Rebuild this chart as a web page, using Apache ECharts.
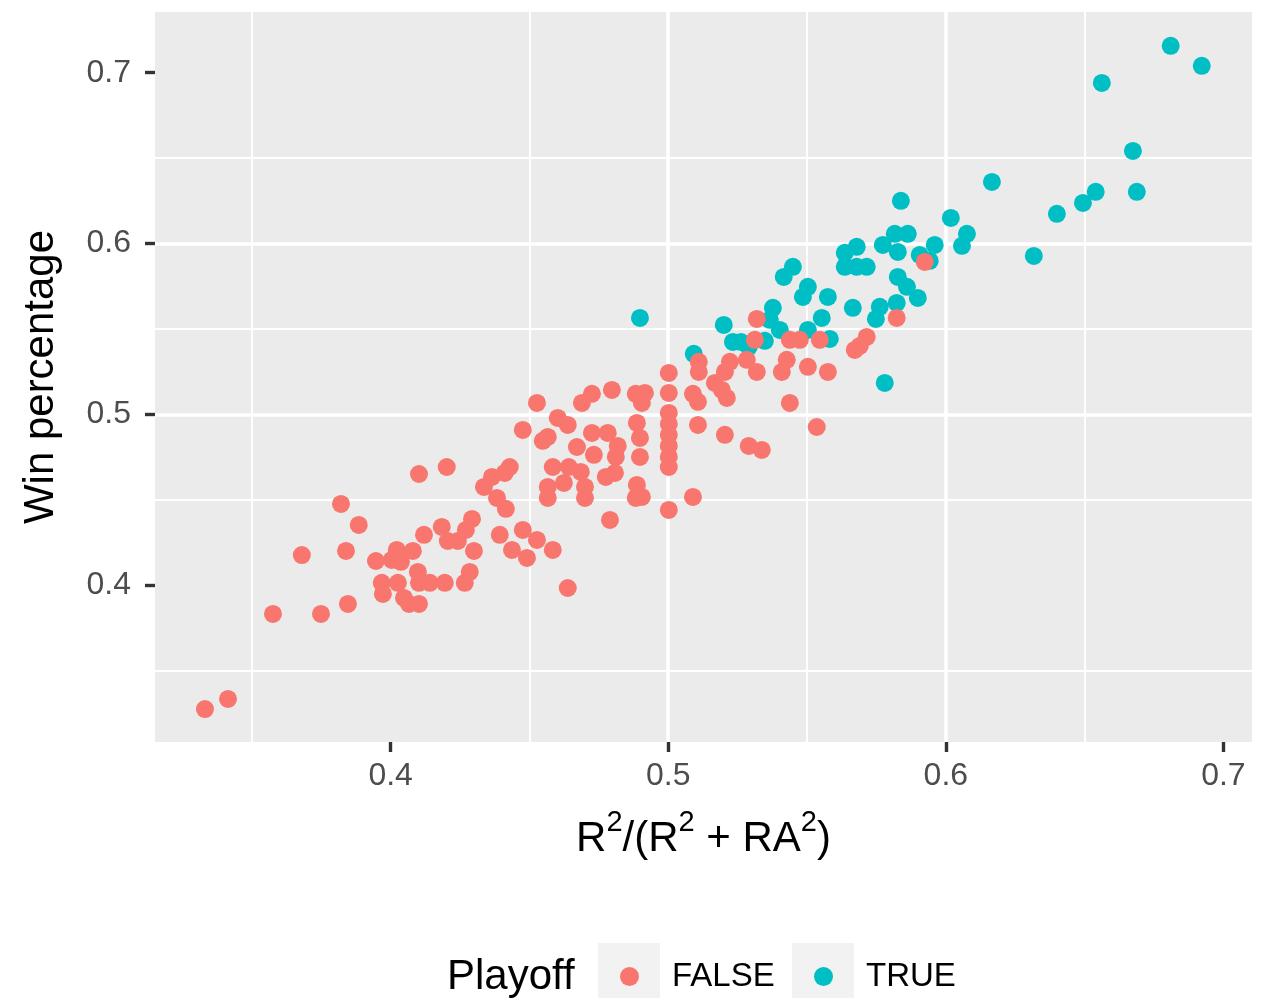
<!DOCTYPE html>
<html><head><meta charset="utf-8">
<script src="https://cdn.jsdelivr.net/npm/echarts@6/dist/echarts.min.js"></script>
<style>html,body{margin:0;padding:0;background:#fff}#chart{width:1268px;height:998px}</style>
</head><body><div id="chart"></div>
<script>
// ---- data ----
const xTicks = [0.4, 0.5, 0.6, 0.7];
const yTicks = [0.4, 0.5, 0.6, 0.7];
const legendTitle = 'Playoff';
const groupNames = ['FALSE', 'TRUE'];

const falseX = [0.3331,0.3414,0.3576,0.3680,0.3749,0.3821,0.3839,0.3846,0.3885,0.3947,
0.3968,0.3972,0.4004,0.4022,0.4037,0.4026,0.4048,0.4066,0.4102,0.4080,
0.4098,0.4102,0.4102,0.4120,0.4141,0.4184,0.4195,0.4202,0.4206,0.4242,
0.4271,0.4293,0.4300,0.4267,0.4285,0.4336,0.4365,0.4383,0.4415,0.4411,
0.4429,0.4393,0.4437,0.4476,0.4527,0.4491,0.4584,0.4638,0.4527,0.4476,
0.4602,0.4638,0.4548,0.4566,0.4689,0.4725,0.4797,0.4883,0.4916,0.4905,
0.4725,0.4782,0.4671,0.4732,0.4818,0.4811,0.4584,0.4642,0.4685,0.4624,
0.4566,0.4566,0.4700,0.4700,0.4775,0.4808,0.4790,0.4887,0.4898,0.4898,
0.4887,0.4905,0.4883,0.5002,0.5002,0.5002,0.5002,0.5002,0.5002,0.5002,
0.5002,0.5002,0.5089,0.5107,0.5107,0.5089,0.5110,0.5110,0.5204,0.5290,
0.5337,0.5168,0.5193,0.5211,0.5204,0.5222,0.5283,0.5319,0.5312,0.5319,
0.5409,0.5427,0.5438,0.5474,0.5503,0.5438,0.5535,0.5575,0.5546,0.5672,
0.5690,0.5715,0.5823,0.5924];
const falseY = [0.3277,0.3336,0.3833,0.4178,0.3833,0.4477,0.4202,0.3892,0.4354,0.4143,
0.4015,0.3950,0.4149,0.4208,0.4138,0.4015,0.3927,0.3892,0.3892,0.4202,
0.4079,0.4015,0.4652,0.4296,0.4015,0.4342,0.4015,0.4693,0.4260,0.4260,
0.4325,0.4389,0.4202,0.4015,0.4079,0.4576,0.4635,0.4512,0.4448,0.4658,
0.4693,0.4296,0.4208,0.4325,0.4266,0.4161,0.4208,0.3985,0.5068,0.4910,
0.4980,0.4939,0.4846,0.4869,0.5068,0.5121,0.5144,0.5121,0.5126,0.5068,
0.4892,0.4892,0.4810,0.4764,0.4816,0.4752,0.4693,0.4693,0.4664,0.4600,
0.4576,0.4512,0.4576,0.4512,0.4635,0.4658,0.4383,0.4951,0.4863,0.4752,
0.4588,0.4518,0.4512,0.5243,0.5126,0.5009,0.4945,0.4881,0.4816,0.4752,
0.4693,0.4442,0.5121,0.5074,0.4939,0.4518,0.5308,0.5249,0.4881,0.4816,
0.4793,0.5185,0.5144,0.5097,0.5249,0.5308,0.5320,0.5249,0.5437,0.5559,
0.5249,0.5320,0.5437,0.5437,0.5279,0.5068,0.4927,0.5249,0.5437,0.5378,
0.5401,0.5454,0.5565,0.5893];

const trueX = [0.4898,0.5092,0.5200,0.5233,0.5262,0.5290,0.5348,0.5366,0.5377,0.5402,
0.5416,0.5449,0.5485,0.5503,0.5503,0.5553,0.5575,0.5582,0.5665,0.5636,
0.5679,0.5636,0.5679,0.5715,0.5748,0.5762,0.5780,0.5773,0.5816,0.5863,
0.5827,0.5838,0.5827,0.5860,0.5899,0.5823,0.5960,0.5906,0.5942,0.6018,
0.6076,0.6058,0.6166,0.6317,0.6400,0.6494,0.6540,0.6688,0.6674,0.6562,
0.6810,0.6922];
const trueY = [0.5565,0.5355,0.5524,0.5425,0.5425,0.5396,0.5431,0.5554,0.5624,0.5495,
0.5805,0.5864,0.5688,0.5747,0.5495,0.5565,0.5688,0.5442,0.5624,0.5946,
0.5981,0.5864,0.5864,0.5864,0.5559,0.5630,0.5185,0.5992,0.6057,0.6057,
0.5951,0.6250,0.5805,0.5747,0.5682,0.5653,0.5992,0.5934,0.5899,0.6150,
0.6057,0.5987,0.6361,0.5928,0.6174,0.6238,0.6303,0.6303,0.6542,0.6940,
0.7157,0.7040];

const xRange = [0.3151, 0.7103];
const yRange = [0.3084, 0.7355];

// ---- chart ----
const FONT = '"Liberation Sans", Arial, Helvetica, sans-serif';
const RED = '#F8766D', TEAL = '#00BFC4';
const zip = (a, b) => a.map((v, i) => [v, b[i]]);

const chart = echarts.init(document.getElementById('chart'), null, {renderer: 'canvas'});

function axisCommon(ticks) {
  return {
    type: 'value',
    splitNumber: 4,
    axisLine: {show: false},
    axisTick: {show: true, length: 10, customValues: ticks, lineStyle: {color: '#333333', width: 3.4}},
    axisLabel: {customValues: ticks, formatter: v => v.toFixed(1), color: '#4D4D4D', fontSize: 32, fontFamily: FONT},
    splitLine: {show: true, showMinLine: false, showMaxLine: false, lineStyle: {color: '#FFFFFF', width: 3.6}},
    minorTick: {show: false, splitNumber: 2},
    minorSplitLine: {show: true, lineStyle: {color: '#FFFFFF', width: 1.9}}
  };
}

const xAxis = Object.assign(axisCommon(xTicks), {
  min: xRange[0], max: xRange[1],
  name: '{r|R}{s|2}{r|/(R}{s|2}{r| + RA}{s|2}{r|)}',
  nameLocation: 'middle', nameGap: 66,
  nameTextStyle: {
    fontFamily: FONT, color: '#000',
    rich: {
      r: {fontSize: 42, fontFamily: FONT, color: '#000', verticalAlign: 'bottom', lineHeight: 52},
      s: {fontSize: 29, fontFamily: FONT, color: '#000', verticalAlign: 'top', lineHeight: 52}
    }
  }
});
xAxis.axisLabel.margin = 18;

const yAxis = Object.assign(axisCommon(yTicks), {
  min: yRange[0], max: yRange[1],
  name: 'Win percentage', nameLocation: 'middle', nameGap: 93,
  nameTextStyle: {fontFamily: FONT, color: '#000', fontSize: 42}
});
yAxis.axisLabel.margin = 24;

const legendBase = {
  orient: 'horizontal', top: 955, itemWidth: 19, itemHeight: 19, icon: 'circle',
  selectedMode: false,
  textStyle: {fontFamily: FONT, fontSize: 33, color: '#000', padding: [0, 0, 0, 28]}
};

chart.setOption({
  animation: false,
  textStyle: {fontFamily: FONT},
  grid: {left: 155, right: 16, top: 12, bottom: 256, show: true, backgroundColor: '#EBEBEB', borderWidth: 0, containLabel: false},
  xAxis: xAxis,
  yAxis: yAxis,
  legend: [
    Object.assign({}, legendBase, {left: 615, data: [groupNames[0]]}),
    Object.assign({}, legendBase, {left: 809, data: [groupNames[1]]})
  ],
  graphic: [
    {type: 'rect', left: 598, top: 943, z: -1, shape: {width: 62, height: 55}, style: {fill: '#F2F2F2'}},
    {type: 'rect', left: 792, top: 943, z: -1, shape: {width: 62, height: 55}, style: {fill: '#F2F2F2'}},
    {type: 'text', left: 447, top: 956, style: {text: legendTitle, fontSize: 42, fontFamily: FONT, fill: '#000'}}
  ],
  series: [
    {name: groupNames[1], type: 'scatter', symbol: 'circle', symbolSize: 18, itemStyle: {color: TEAL, opacity: 1}, data: zip(trueX, trueY), z: 2},
    {name: groupNames[0], type: 'scatter', symbol: 'circle', symbolSize: 18, itemStyle: {color: RED, opacity: 1}, data: zip(falseX, falseY), z: 3}
  ]
});
</script>
</body></html>
